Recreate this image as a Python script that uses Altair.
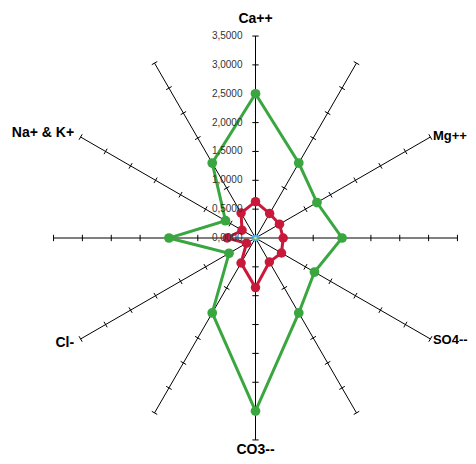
import math
import altair as alt
import pandas as pd

# ---- data ----
categories = ["Ca++", "", "Mg++", "", "SO4--", "", "CO3--", "", "Cl-", "", "Na+ & K+", ""]
green_values = [2.5, 1.5, 1.23, 1.5, 1.18, 1.5, 3.0, 1.5, 0.53, 1.5, 0.6, 1.5]
red_values = [0.63, 0.49, 0.48, 0.48, 0.52, 0.48, 0.86, 0.5, 0.18, 0.49, 0.27, 0.5]
blue_values = [0, 0, 0, 0, 0, 0, 0, 0, 0, 0, 0, 0]
tick_values = [0.0, 0.5, 1.0, 1.5, 2.0, 2.5, 3.0, 3.5]
tick_labels = ["0,0000", "0,5000", "1,0000", "1,5000", "2,0000", "2,5000", "3,0000", "3,5000"]
r_max = 3.5

n = len(categories)
angles = [2 * math.pi * k / n for k in range(n)]

# ---- build tables ----
def series_df(vals, name):
    rows = []
    for i in range(n + 1):
        k = i % n
        rows.append({"series": name, "order": i,
                     "x": vals[k] * math.sin(angles[k]),
                     "y": vals[k] * math.cos(angles[k])})
    return pd.DataFrame(rows)

green_df = series_df(green_values, "green")
red_df = series_df(red_values, "red")
blue_df = series_df(blue_values, "blue").iloc[:n]

spokes_df = pd.DataFrame([{"x": 0.0, "y": 0.0,
                           "x2": r_max * math.sin(a), "y2": r_max * math.cos(a)}
                          for a in angles])

h = 0.055
tick_rows = []
for a in angles:
    for v in tick_values[1:]:
        cx, cy = v * math.sin(a), v * math.cos(a)
        tick_rows.append({"x": cx - h * math.cos(a), "y": cy + h * math.sin(a),
                          "x2": cx + h * math.cos(a), "y2": cy - h * math.sin(a)})
ticks_df = pd.DataFrame(tick_rows)

lab_rows = []
for k, c in enumerate(categories):
    if not c:
        continue
    a = angles[k]
    s, co = math.sin(a), math.cos(a)
    if abs(s) < 0.01:
        r = 3.8 if co > 0 else 3.67
        align = "center"
    elif s > 0:
        r, align = 3.55, "left"
    else:
        r, align = 3.63, "right"
    lab_rows.append({"label": c, "x": r * s, "y": r * co, "align": align})
lab_df = pd.DataFrame(lab_rows)

tl_df = pd.DataFrame({"v": tick_values, "label": tick_labels, "x": [0.0] * len(tick_values)})

# ---- scales ----
W, H = 460, 448
cx0, cy0 = 247.5, 230
px = 57.7
xs = alt.Scale(domain=[-cx0 / px, (W - cx0) / px], nice=False, zero=False)
ys = alt.Scale(domain=[-(H - cy0) / px, cy0 / px], nice=False, zero=False)

def X(f="x"):
    return alt.X(f + ":Q", scale=xs, axis=None)

def Y(f="y"):
    return alt.Y(f + ":Q", scale=ys, axis=None)

spokes = alt.Chart(spokes_df).mark_rule(color="black", strokeWidth=1).encode(
    x=X(), y=Y(), x2="x2:Q", y2="y2:Q")
ticks = alt.Chart(ticks_df).mark_rule(color="black", strokeWidth=1).encode(
    x=X(), y=Y(), x2="x2:Q", y2="y2:Q")

green_line = alt.Chart(green_df).mark_line(color="#3aa63f", strokeWidth=3).encode(
    x=X(), y=Y(), order="order:Q")
green_pts = alt.Chart(green_df.iloc[:n]).mark_circle(color="#3aa63f", size=95, opacity=1).encode(
    x=X(), y=Y())
red_line = alt.Chart(red_df).mark_line(color="#c8193a", strokeWidth=3).encode(
    x=X(), y=Y(), order="order:Q")
red_pts = alt.Chart(red_df.iloc[:n]).mark_circle(color="#c8193a", size=90, opacity=1).encode(
    x=X(), y=Y())
blue_pts = alt.Chart(blue_df).mark_point(shape="cross", angle=45, filled=True,
                                          color="#4cb2e6", size=45, opacity=1).encode(
    x=X(), y=Y())
yellow_pt = alt.Chart(blue_df.iloc[:1]).mark_circle(color="#f2e03a", size=6, opacity=1).encode(
    x=X(), y=Y())

tick_text = alt.Chart(tl_df).mark_text(align="right", baseline="middle", dx=-13,
                                       font="Liberation Sans", fontSize=10,
                                       color="#333333").encode(
    x=X(), y=Y("v"), text="label:N")

label_charts = []
for al in ["left", "right", "center"]:
    sub = lab_df[lab_df["align"] == al]
    fs = 13 if al == "left" else 14
    label_charts.append(
        alt.Chart(sub).mark_text(align=al, baseline="middle", font="Liberation Sans",
                                 fontSize=fs, fontWeight="bold", color="black").encode(
            x=X(), y=Y(), text="label:N"))

chart = alt.layer(spokes, ticks, green_line, green_pts, red_line, red_pts,
                  blue_pts, yellow_pt, tick_text, *label_charts).properties(
    width=W, height=H, padding=0, autosize="none"
).configure_view(stroke=None)

chart.save("out.html", embed_options={"renderer": "svg", "actions": False})
